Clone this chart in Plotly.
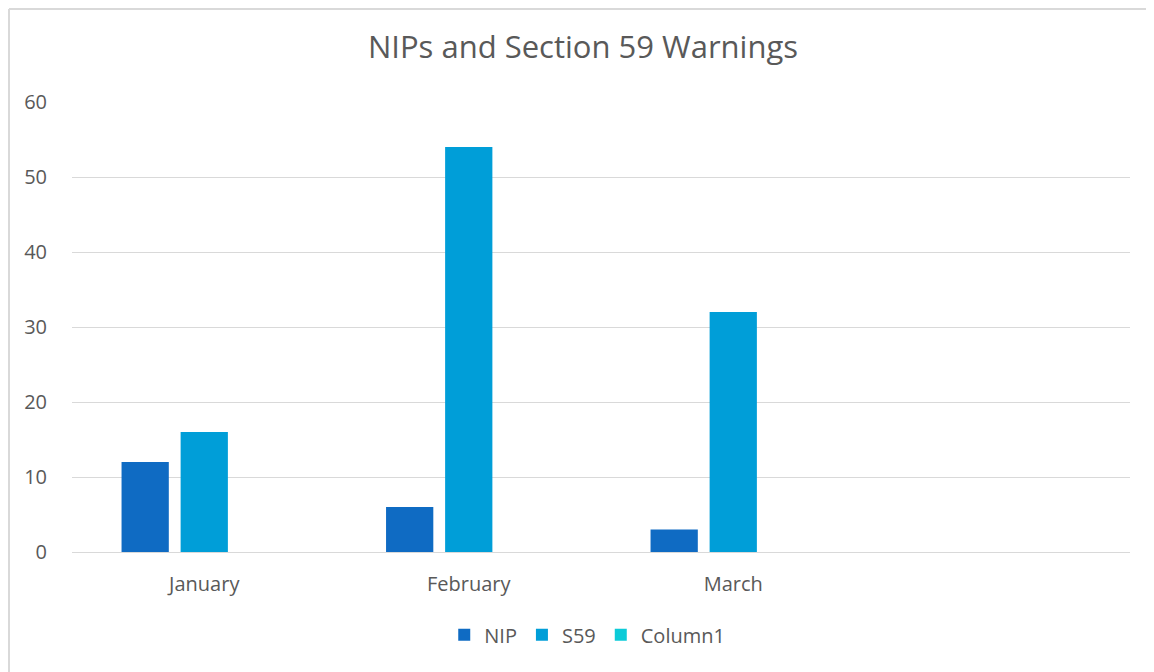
import plotly.graph_objects as go

# Datos del gráfico
months = ["January", "February", "March", " "]
nip = [12, 6, 3, None]
s59 = [16, 54, 32, None]
column1 = [0, 0, 0, None]

clrNip = "#0F6BC3"
clrS59 = "#009ED8"
clrCol1 = "#0CCBD8"
txtClr = "#595959"
fnt = "Open Sans"

# La página tiene 8px de margen en el body
figW, figH = 1146, 664
mL, mT, mR, mB = 64, 94, 24, 120
plotW = figW - mL - mR
plotH = figH - mT - mB

fig = go.Figure()

fig.add_trace(go.Bar(x=months, y=nip, name="NIP", marker=dict(color=clrNip, line=dict(width=0))))
fig.add_trace(go.Bar(x=months, y=s59, name="S59", marker=dict(color=clrS59, line=dict(width=0))))
fig.add_trace(go.Bar(x=months, y=column1, name="Column1", marker=dict(color=clrCol1, line=dict(width=0))))

#Configurando layout
fig.update_layout(
    width=figW,
    height=figH,
    margin={'t': mT, 'b': mB, 'l': mL, 'r': mR},
    paper_bgcolor="white",
    plot_bgcolor="white",
    barmode="group",
    bargap=0.33,
    bargroupgap=0.2,
    font=dict(family=fnt, color=txtClr, size=20),
    title=dict(text="NIPs and Section 59 Warnings", x=575 / figW, xanchor="center",
               y=1 - 39 / figH, yanchor="middle", yref="container",
               font=dict(size=31, color=txtClr, family=fnt)),
    legend=dict(orientation="h", x=0.487, xanchor="center", y=-0.184, yanchor="middle",
                font=dict(size=20, color=txtClr), itemwidth=30, traceorder="normal"),
    xaxis=dict(type="category", categoryorder="array", categoryarray=months,
               range=[-0.5, 3.5], showgrid=False, showline=False, zeroline=False,
               ticks="", ticklabelstandoff=18, tickfont=dict(size=20, color=txtClr)),
    yaxis=dict(range=[0, 60], dtick=10, showgrid=True, gridcolor="#D9D9D9", gridwidth=1,
               zeroline=True, zerolinecolor="#D9D9D9", zerolinewidth=1, showline=False,
               ticks="", ticklabelstandoff=24, tickfont=dict(size=20, color=txtClr)),
)

# Borde del área del gráfico (solo izquierda y arriba quedan visibles)
bx0 = (1 - mL) / plotW
by1 = (plotH + mT - 1) / plotH
fig.add_shape(type="line", xref="paper", yref="paper", x0=bx0, x1=bx0,
              y0=-(mB + 10) / plotH, y1=by1, line=dict(color="#D9D9D9", width=2), layer="below")
fig.add_shape(type="line", xref="paper", yref="paper", x0=bx0, x1=(figW + 10 - mL) / plotW,
              y0=by1, y1=by1, line=dict(color="#D9D9D9", width=2), layer="below")

fig.write_html("out.html")
